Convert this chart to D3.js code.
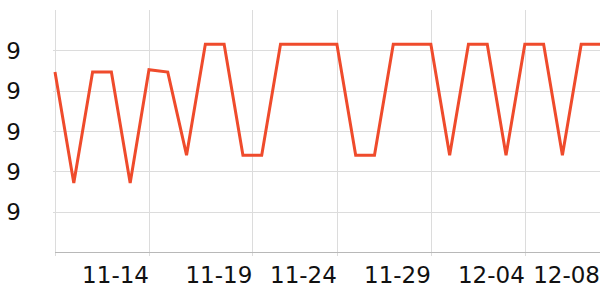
<!doctype html>
<html lang="en">
<head>
<meta charset="utf-8">
<script src="https://d3js.org/d3.v7.min.js"></script>
<style>
  body { margin:0; background:#fff; }
  text { font-family:"DejaVu Sans", sans-serif; font-size:23px; fill:#111; }
  .grid line { stroke:#dcdcdc; stroke-width:1; }
  .domain-x { stroke:#b8b8b8; stroke-width:1; }
  .series { fill:none; stroke:#ef4b2c; stroke-width:3; stroke-linejoin:miter; }
</style>
</head>
<body>
<div id="chart"></div>
<script>
// 30 daily readings, 11-09 .. 12-08
const dates = ["2023-11-09","2023-11-10","2023-11-11","2023-11-12","2023-11-13",
  "2023-11-14","2023-11-15","2023-11-16","2023-11-17","2023-11-18",
  "2023-11-19","2023-11-20","2023-11-21","2023-11-22","2023-11-23",
  "2023-11-24","2023-11-25","2023-11-26","2023-11-27","2023-11-28",
  "2023-11-29","2023-11-30","2023-12-01","2023-12-02","2023-12-03",
  "2023-12-04","2023-12-05","2023-12-06","2023-12-07","2023-12-08"];
const values = [9.446,9.171,9.446,9.446,9.171,
  9.452,9.446,9.240,9.515,9.515,
  9.240,9.240,9.515,9.515,9.515,
  9.515,9.240,9.240,9.515,9.515,
  9.515,9.240,9.515,9.515,9.240,
  9.515,9.515,9.240,9.515,9.515];
const xTickDates = ["2023-11-09","2023-11-14","2023-11-19T12:00","2023-11-24","2023-11-29","2023-12-04","2023-12-08"];
const yDomain = [9.0, 9.6];
const yTicks = [9.1, 9.2, 9.3, 9.4, 9.5];

let margin = {top: 10, right: 0, bottom: 48, left: 55},
    width = 600 - margin.left - margin.right,
    height = 300 - margin.top - margin.bottom;

const parse = s => new Date(s.length > 10 ? s : s + "T00:00");
const data = dates.map((d, i) => ({date: parse(d), value: values[i]}));

let svg = d3.select("#chart").append("svg")
    .attr("width", 600).attr("height", 300)
  .append("g")
    .attr("transform", "translate(" + margin.left + "," + margin.top + ")");

let xScale = d3.scaleTime().domain(d3.extent(data, d => d.date)).range([0, width]);
let yScale = d3.scaleLinear().domain(yDomain).range([height, 0]);

const xTicks = xTickDates.map(parse);

// vertical grid
svg.append("g").attr("class", "grid")
  .selectAll("line").data(xTicks).join("line")
    .attr("x1", d => Math.round(xScale(d)) + 0.5).attr("x2", d => Math.round(xScale(d)) + 0.5)
    .attr("y1", 0).attr("y2", height + 4);

// horizontal grid
svg.append("g").attr("class", "grid")
  .selectAll("line").data(yTicks).join("line")
    .attr("x1", -2).attr("x2", width)
    .attr("y1", d => Math.round(yScale(d)) + 0.5).attr("y2", d => Math.round(yScale(d)) + 0.5);

// x axis line
svg.append("line").attr("class", "domain-x")
  .attr("x1", 0).attr("x2", width)
  .attr("y1", height + 0.5).attr("y2", height + 0.5);

// y labels
svg.append("g").selectAll("text").data(yTicks).join("text")
  .attr("x", -34).attr("y", d => yScale(d)).attr("dy", "0.38em")
  .attr("text-anchor", "end")
  .text(d => Math.trunc(d));

// x labels (right aligned to tick), skip first
const fmt = d3.timeFormat("%m-%d");
svg.append("g").selectAll("text").data(xTicks.slice(1)).join("text")
  .attr("x", d => xScale(d)).attr("y", height + 31)
  .attr("text-anchor", "end")
  .text(d => fmt(d));

svg.append("path").datum(data)
  .attr("class", "series")
  .attr("d", d3.line().x(d => xScale(d.date)).y(d => yScale(d.value)));
</script>
</body>
</html>
